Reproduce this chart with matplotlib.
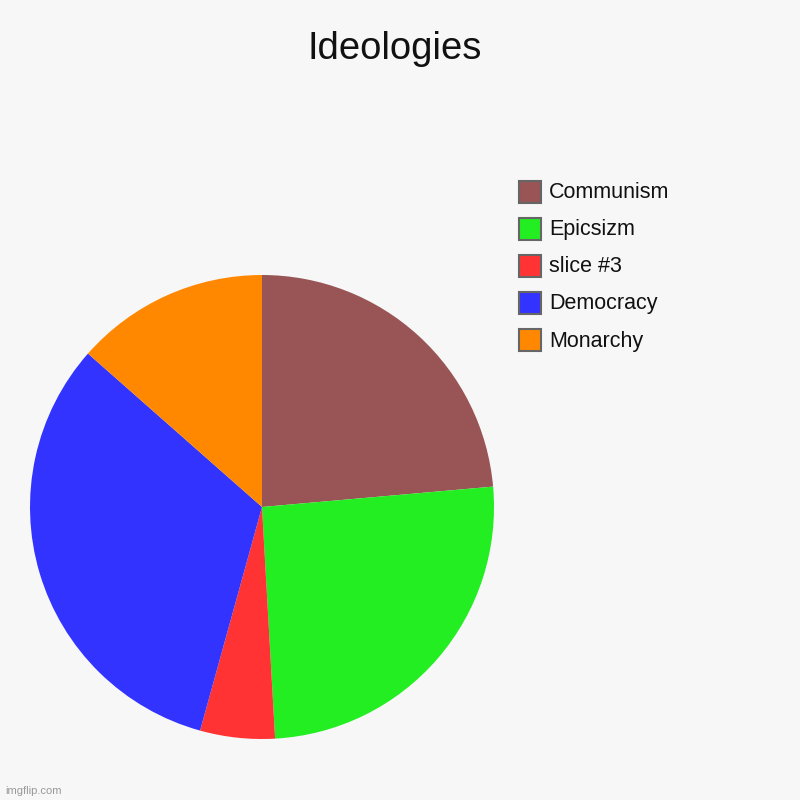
import matplotlib.pyplot as plt
from matplotlib.patches import Rectangle

# slice data, clockwise from 12 o'clock
labels = ["Communism", "Epicsizm", "slice #3", "Democracy", "Monarchy"]
values = [23.6, 25.5, 5.2, 32.2, 13.5]
colors = ["#995555", "#22EE22", "#FF3333", "#3333FF", "#FF8800"]

bg = "#F7F7F7"
plt.rcParams['font.family'] = ['Liberation Sans', 'DejaVu Sans']

fig = plt.figure(figsize=(8, 8), dpi=100, facecolor=bg)

# pie: centre ~ (262, 507) px, radius ~ 232 px
cx, cy, r = 262 / 800, 1 - 507 / 800, 232 / 800
ax = fig.add_axes([cx - r, cy - r, 2 * r, 2 * r])
ax.set_facecolor(bg)
ax.pie(values, colors=colors, startangle=90, counterclock=False,
       wedgeprops=dict(linewidth=0))
ax.set_xlim(-1, 1)
ax.set_ylim(-1, 1)
ax.set_aspect("equal")
ax.axis("off")

fig.text(395 / 800, 1 - 49 / 800, "Ideologies", ha="center", va="center",
         fontsize=27.5, color="#111111")

# legend, drawn by hand to match placement
for i, (lab, col) in enumerate(zip(labels, colors)):
    yc = 192 + i * 37
    fig.patches.append(Rectangle((519 / 800, 1 - (yc + 11) / 800), 22 / 800, 22 / 800,
                                 transform=fig.transFigure, facecolor=col,
                                 edgecolor="#666666", linewidth=1.5))
    fig.text(549 / 800, 1 - (yc + 1) / 800, lab, ha="left", va="center",
             fontsize=15.5, color="#111111")

fig.text(5 / 800, 1 - 791 / 800, "imgflip.com", ha="left", va="center",
         fontsize=8, color="#999999")

fig.savefig("out.png", dpi=100, facecolor=bg)
